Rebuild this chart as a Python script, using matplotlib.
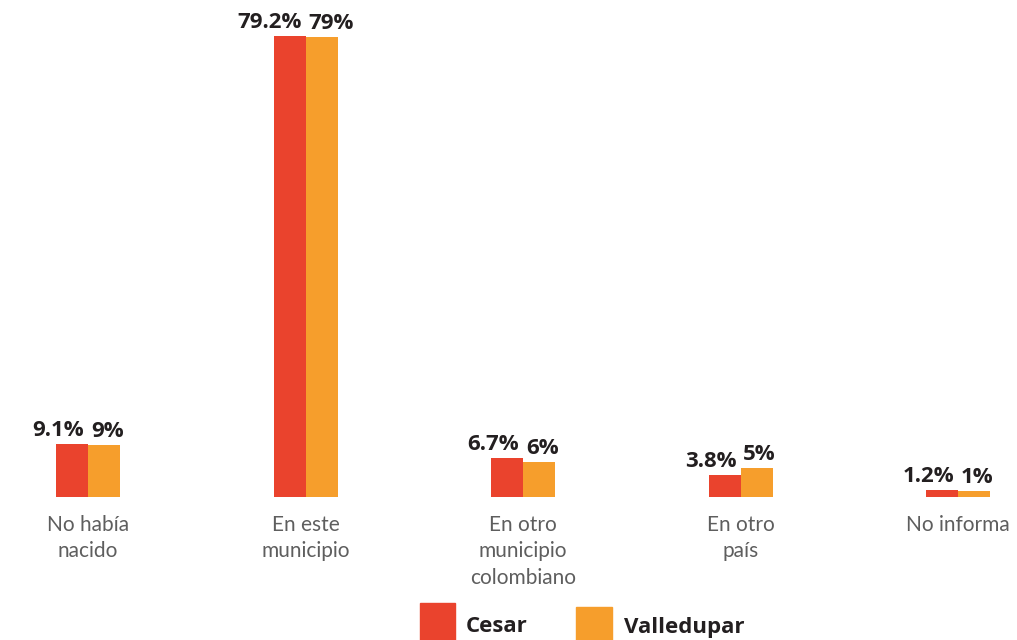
import numpy as np
import matplotlib
matplotlib.use('Agg')
import matplotlib.pyplot as plt
from matplotlib.patches import Rectangle

categories = ['No había\nnacido', 'En este\nmunicipio', 'En otro\nmunicipio\ncolombiano', 'En otro\npaís', 'No informa']
cesar = [9.1, 79.2, 6.7, 3.8, 1.2]
valledupar = [9, 79, 6, 5, 1]
cesar_labels = ['9.1%', '79.2%', '6.7%', '3.8%', '1.2%']
valle_labels = ['9%', '79%', '6%', '5%', '1%']

RED = '#EA432D'
ORANGE = '#F69E2C'
DARK = '#231F20'
GRAY = '#5E5E5E'

W, H = 1017, 640
fig = plt.figure(figsize=(W/100, H/100), dpi=100)
#axes spans the full width, baseline at y=497 px from top
ax = fig.add_axes([0, 143/H, 1, 497/H])
ax.set_xlim(-88/217.5, (W-88)/217.5)
ax.set_ylim(0, 497/5.82)
ax.axis('off')

x = np.arange(len(categories))
bw = 32/217.5
ax.bar(x - bw/2, cesar, bw, color=RED)
ax.bar(x + bw/2, valledupar, bw, color=ORANGE)

bold = dict(fontsize=16, fontweight='bold', color=DARK, family=['Open Sans', 'DejaVu Sans'])
for i in range(len(categories)):
    ax.annotate(cesar_labels[i], (x[i], cesar[i]), xytext=(-3, 2), textcoords='offset points',
                ha='right', va='bottom', **bold)
    ax.annotate(valle_labels[i], (x[i], valledupar[i]), xytext=(2, 2), textcoords='offset points',
                ha='left', va='bottom', **bold)
    ax.annotate(categories[i], (x[i], 0), xytext=(0, -13), textcoords='offset points',
                ha='center', va='top', fontsize=15, color=GRAY, linespacing=1.4,
                family=['Lato', 'DejaVu Sans'])

# legend drawn by hand at the bottom
fig.patches.append(Rectangle((420/W, 0), 35/W, 37/H, transform=fig.transFigure, color=RED))
fig.patches.append(Rectangle((576/W, 0), 36/W, 33/H, transform=fig.transFigure, color=ORANGE))
leg = dict(fontsize=16, fontweight='bold', color=DARK, va='center', family=['Open Sans', 'DejaVu Sans'])
fig.text(466/W, 1 - 627/H, 'Cesar', **leg)
fig.text(624/W, 1 - 628/H, 'Valledupar', **leg)

plt.savefig('out.png', dpi=100)
